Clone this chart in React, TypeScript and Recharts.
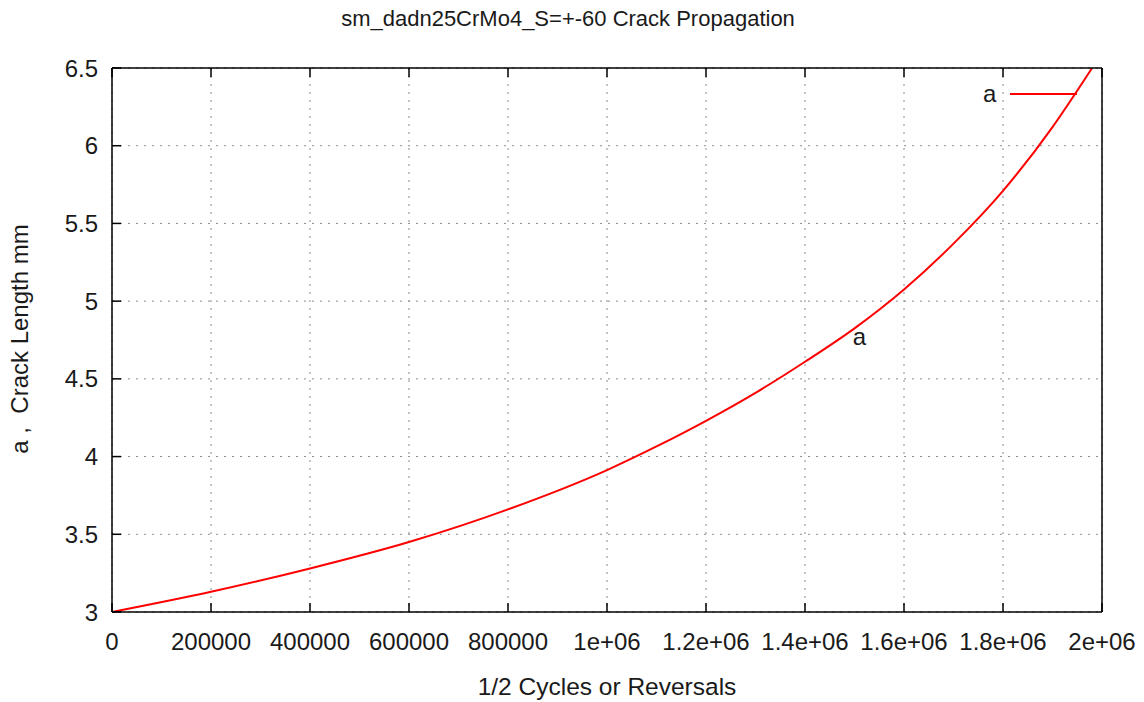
import React from "react";
import {
  LineChart, Line, XAxis, YAxis, CartesianGrid, ReferenceDot,
} from "recharts";

const FONT = "'Liberation Sans', Arial, sans-serif";
const INK = "#1a1a1a";
const RED = "#ff0000";

// 1/2 cycles
const cycles = [0, 200000, 400000, 600000, 800000, 1000000, 1100000, 1200000, 1300000, 1400000, 1500000, 1600000, 1700000, 1800000, 1900000, 1980000];
// crack length a, mm
const crack = [3.0, 3.13, 3.28, 3.45, 3.66, 3.913, 4.065, 4.23, 4.41, 4.61, 4.825, 5.075, 5.37, 5.71, 6.12, 6.5];

const xTicks = [0, 200000, 400000, 600000, 800000, 1000000, 1200000, 1400000, 1600000, 1800000, 2000000];
const xTickLabels = ["0", "200000", "400000", "600000", "800000", "1e+06", "1.2e+06", "1.4e+06", "1.6e+06", "1.8e+06", "2e+06"];
const yTicks = [3, 3.5, 4, 4.5, 5, 5.5, 6, 6.5];

const seriesName = "a";

const data = cycles.map((n, i) => ({ n, a: crack[i] }));

const TICK = 9;

const BottomTick = (p: any) => {
  const i = xTicks.indexOf(p.payload.value);
  return (
    <g>
      <line x1={p.x} y1={p.y} x2={p.x} y2={p.y - TICK} stroke="#000" strokeWidth={1.5} />
      <text x={p.x} y={p.y + 38} textAnchor="middle" fontSize={24} fontFamily={FONT} fill={INK}>
        {xTickLabels[i]}
      </text>
    </g>
  );
};

const TopTick = (p: any) => (
  <line x1={p.x} y1={p.y} x2={p.x} y2={p.y + TICK} stroke="#000" strokeWidth={1.5} />
);

const LeftTick = (p: any) => (
  <g>
    <line x1={p.x} y1={p.y} x2={p.x + TICK} y2={p.y} stroke="#000" strokeWidth={1.5} />
    <text x={p.x - 14} y={p.y} dy="0.36em" textAnchor="end" fontSize={24} fontFamily={FONT} fill={INK}>
      {p.payload.value}
    </text>
  </g>
);

const RightTick = (p: any) => (
  <line x1={p.x} y1={p.y} x2={p.x - TICK} y2={p.y} stroke="#000" strokeWidth={1.5} />
);

export default function App() {
  return (
    <div style={{ position: "absolute", left: 0, top: 0, width: 1144, height: 702, background: "#fff", fontFamily: FONT }}>
      <div style={{ position: "absolute", left: 0, width: 1136, top: 6, textAlign: "center", fontSize: 22, color: INK }}>
        sm_dadn25CrMo4_S=+-60 Crack Propagation
      </div>
      <div style={{ position: "absolute", left: 112, width: 990, top: 673, textAlign: "center", fontSize: 24.5, color: INK }}>
        1/2 Cycles or Reversals
      </div>
      <div
        style={{
          position: "absolute", left: 20, top: 339, fontSize: 24, color: INK, whiteSpace: "pre",
          transform: "translate(-50%, -50%) rotate(-90deg)",
        }}
      >
        {"a ,  Crack Length mm"}
      </div>

      <LineChart width={1144} height={702} data={data} margin={{ top: 58, right: 32, bottom: 50, left: 52 }}>
        <CartesianGrid stroke="#8a8a8a" strokeDasharray="2 6" strokeWidth={1} />
        <XAxis
          dataKey="n" type="number" domain={[0, 2000000]} ticks={xTicks} interval={0}
          height={40} tickSize={0} tickMargin={0} tick={BottomTick}
          axisLine={{ stroke: "#000", strokeWidth: 1.5 }}
        />
        <XAxis
          xAxisId="top" orientation="top" dataKey="n" type="number" domain={[0, 2000000]} ticks={xTicks} interval={0}
          height={10} tickSize={0} tickMargin={0} tick={TopTick}
          axisLine={{ stroke: "#000", strokeWidth: 1.5 }}
        />
        <YAxis
          type="number" domain={[3, 6.5]} ticks={yTicks} interval={0}
          width={60} tickSize={0} tickMargin={0} tick={LeftTick}
          axisLine={{ stroke: "#000", strokeWidth: 1.5 }}
        />
        <YAxis
          yAxisId="right" orientation="right" type="number" domain={[3, 6.5]} ticks={yTicks} interval={0}
          width={10} tickSize={0} tickMargin={0} tick={RightTick}
          axisLine={{ stroke: "#000", strokeWidth: 1.5 }}
        />
        <Line
          type="monotone" dataKey="a" name={seriesName} stroke={RED} strokeWidth={2}
          dot={false} activeDot={false} isAnimationActive={false}
        />
        <ReferenceDot
          x={1510000} y={4.77} r={0} fill="none" stroke="none"
          label={{ value: seriesName, position: "center", fontSize: 24, fontFamily: FONT, fill: INK }}
        />
      </LineChart>

      {/* key, top right inside the frame */}
      <div style={{ position: "absolute", left: 983, top: 82, display: "flex", alignItems: "center" }}>
        <span style={{ fontSize: 24, color: INK, marginRight: 14, lineHeight: "24px" }}>{seriesName}</span>
        <span style={{ width: 67, height: 2, background: RED, display: "inline-block" }} />
      </div>
    </div>
  );
}
